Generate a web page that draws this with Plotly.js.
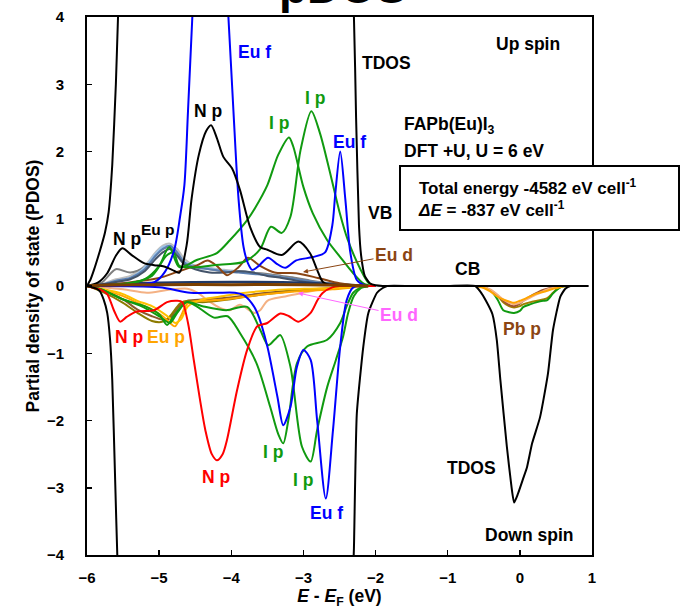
<!DOCTYPE html>
<html>
<head>
<meta charset="utf-8">
<script src="https://cdn.plot.ly/plotly-3.0.1.min.js"></script>
<style>html,body{margin:0;padding:0;background:#fff}#chart{width:680px;height:609px}</style>
</head>
<body>
<div id="chart"></div>
<script>
// ---------- data (energy E - EF in eV, PDOS values) ----------
const tdosUpX = [-6,-5.95,-5.9,-5.85,-5.8,-5.75,-5.7,-5.65,-5.6,-5.57,-5.5,-5.3,-4,-2.6,-2.4,-2.3,-2.27,-2.23,-2.2,-2.15,-2.08,-2.0,-1.9,-1.0,0,0.95];
const tdosUpY = [0,0.1,0.25,0.42,0.6,0.8,1.1,1.8,3.0,4.0,6,8,8,8,6,4.0,2.5,0.9,0.45,0.15,0.04,0.01,0,0,0,0];

const tdosDnX = [-6,-5.93,-5.87,-5.82,-5.77,-5.72,-5.68,-5.65,-5.61,-5.58,-5.5,-5.3,-4,-2.6,-2.4,-2.32,-2.3,-2.26,-2.17,-2.1,-1.98,-1.9,-1.84,-1.5,-1.0,-0.62,-0.55,-0.47,-0.38,-0.32,-0.27,-0.18,-0.12,-0.08,-0.03,0.05,0.1,0.17,0.28,0.39,0.46,0.56,0.63,0.7,0.8,0.95];
const tdosDnY = [0,-0.02,-0.04,-0.08,-0.2,-0.4,-0.8,-1.4,-2.88,-4.0,-6,-8,-8,-8,-6,-4.5,-3.9,-1.9,-0.9,-0.4,-0.1,-0.03,0,0,0,0,-0.08,-0.22,-0.42,-0.8,-1.4,-2.39,-2.95,-3.22,-3.1,-2.85,-2.69,-2.34,-1.95,-1.3,-0.65,-0.16,-0.04,0,0,0];

const npUpX = [-6,-5.85,-5.72,-5.6,-5.51,-5.38,-5.21,-5.07,-4.93,-4.82,-4.72,-4.62,-4.55,-4.45,-4.35,-4.28,-4.2,-4.11,-3.99,-3.88,-3.74,-3.6,-3.5,-3.3,-3.07,-2.91,-2.81,-2.73,-2.6,-2.3];
const npUpY = [0,0.05,0.19,0.45,0.56,0.46,0.34,0.31,0.29,0.24,0.2,0.6,1.3,1.95,2.3,2.39,2.2,1.92,1.75,1.43,0.88,0.58,0.54,0.46,0.66,0.49,0.24,0.06,0.01,0];

const eufUpX = [-6,-5.5,-5.2,-5.06,-4.92,-4.79,-4.71,-4.65,-4.6,-4.54,-4.45,-4.3,-4.15,-4.04,-3.97,-3.9,-3.83,-3.77,-3.71,-3.62,-3.49,-3.37,-3.25,-3.1,-2.87,-2.7,-2.6,-2.56,-2.49,-2.42,-2.35,-2.26,-2.15,-2.0];
const eufUpY = [0,0.01,0.03,0.06,0.21,0.54,1.03,1.5,2.6,4.0,6,7,6,4.0,2.6,1.3,0.58,0.34,0.24,0.3,0.42,0.33,0.27,0.38,0.43,0.5,0.9,1.35,2.0,1.3,0.5,0.09,0.01,0];

const ipUp1X = [-6,-5.5,-5.2,-5.0,-4.86,-4.72,-4.47,-4.2,-4.02,-3.78,-3.67,-3.5,-3.35,-3.2,-3.14,-3.0,-2.87,-2.67,-2.49,-2.31,-2.17,-2.05];
const ipUp1Y = [0,0.03,0.1,0.3,0.58,0.28,0.39,0.49,0.68,0.98,1.16,1.5,1.95,2.21,2.07,1.47,1.08,0.68,0.43,0.19,0.04,0];

const ipUp2X = [-6,-5.5,-5.1,-4.9,-4.8,-4.72,-4.5,-4.24,-3.82,-3.6,-3.45,-3.3,-3.18,-3.04,-2.89,-2.77,-2.63,-2.5,-2.39,-2.21,-2.1,-2.0];
const ipUp2Y = [0,0.02,0.15,0.45,0.5,0.3,0.28,0.31,0.36,0.55,0.88,0.79,1.03,2.02,2.6,2.27,1.68,1.1,0.7,0.25,0.05,0];

const eudUpX = [-6,-5.6,-5.3,-5.0,-4.75,-4.47,-4.33,-4.2,-4.06,-3.9,-3.77,-3.6,-3.4,-3.1,-2.8,-2.5,-2.2];
const eudUpY = [0,0.03,0.07,0.12,0.21,0.31,0.38,0.3,0.16,0.28,0.42,0.3,0.2,0.19,0.12,0.04,0];

const eupUpX = [-6,-5.8,-5.6,-5.4,-5.2,-5.05,-4.95,-4.85,-4.75,-4.65,-4.5,-4.3,-4.1,-3.9,-3.7,-3.5,-3.3,-3.1,-2.9,-2.7,-2.5,-2.3,-2.1];
const eupUpGray = [0,0.05,0.25,0.2,0.28,0.45,0.55,0.58,0.48,0.35,0.3,0.25,0.22,0.22,0.2,0.18,0.15,0.12,0.08,0.05,0.03,0.01,0];
const eupUpLightGray = [0,0.03,0.1,0.15,0.3,0.5,0.6,0.63,0.55,0.4,0.3,0.27,0.24,0.22,0.2,0.17,0.14,0.1,0.07,0.05,0.03,0.01,0];
const eupUpSteel = [0,0.02,0.08,0.12,0.25,0.45,0.55,0.6,0.5,0.35,0.28,0.25,0.22,0.2,0.18,0.16,0.13,0.1,0.07,0.04,0.02,0.01,0];
const eupUpSlate = [0,0.02,0.06,0.1,0.22,0.4,0.5,0.55,0.45,0.32,0.25,0.2,0.2,0.22,0.2,0.15,0.12,0.08,0.05,0.03,0.02,0.01,0];
const eupUpLightBlue = [0,0.02,0.07,0.12,0.28,0.48,0.58,0.6,0.5,0.36,0.3,0.26,0.23,0.21,0.19,0.16,0.13,0.09,0.06,0.04,0.02,0.01,0];

const baseX = [-6,-5.8,-5,-4,-3,-2.4,-2.1];
const baseBrownY = [0,0.01,0.02,0.02,0.02,0.01,0];
const baseNavyY = [0,0.02,0.05,0.06,0.05,0.02,0];

const npDnX = [-6,-5.9,-5.8,-5.72,-5.62,-5.54,-5.45,-5.31,-5.07,-4.89,-4.75,-4.68,-4.6,-4.52,-4.44,-4.36,-4.27,-4.2,-4.12,-4.06,-3.92,-3.78,-3.64,-3.5,-3.32,-3.2,-3.07,-2.9,-2.8,-2.73,-2.6,-2.5,-2.0];
const npDnY = [0,-0.03,-0.06,-0.12,-0.38,-0.53,-0.46,-0.38,-0.36,-0.24,-0.22,-0.24,-0.55,-1.1,-1.65,-2.14,-2.5,-2.59,-2.5,-2.29,-1.55,-0.95,-0.6,-0.55,-0.41,-0.45,-0.53,-0.4,-0.2,-0.1,-0.02,0,0];

const eufDnX = [-6,-5,-4.57,-4.2,-3.95,-3.84,-3.72,-3.64,-3.5,-3.36,-3.28,-3.18,-3.09,-3.0,-2.9,-2.81,-2.69,-2.59,-2.49,-2.4,-2.31,-2.2];
const eufDnY = [0,-0.02,-0.1,-0.1,-0.1,-0.13,-0.25,-0.4,-0.9,-1.65,-2.07,-1.8,-1.2,-0.95,-1.1,-2.0,-3.16,-2.14,-0.9,-0.21,-0.02,0];

const ipDnAX = [-6,-5.8,-5.5,-5.2,-5.0,-4.89,-4.8,-4.62,-4.47,-4.24,-4.05,-3.88,-3.65,-3.46,-3.35,-3.28,-3.21,-3.09,-2.95,-2.67,-2.49,-2.4,-2.31,-2.2,-2.1];
const ipDnAY = [0,-0.05,-0.2,-0.3,-0.42,-0.58,-0.45,-0.24,-0.31,-0.47,-0.45,-0.7,-1.15,-1.8,-2.2,-2.34,-2.0,-1.15,-0.9,-0.8,-0.55,-0.3,-0.1,-0.02,0];

const ipDnBX = [-6,-5.8,-5.5,-5.25,-5.0,-4.85,-4.75,-4.62,-4.4,-4.07,-3.78,-3.6,-3.49,-3.4,-3.32,-3.18,-3.02,-2.9,-2.81,-2.67,-2.55,-2.45,-2.38,-2.3,-2.2,-2.1];
const ipDnBY = [0,-0.05,-0.2,-0.3,-0.45,-0.55,-0.4,-0.24,-0.3,-0.36,-0.31,-0.65,-0.88,-0.8,-0.73,-1.2,-2.39,-2.61,-2.14,-1.5,-1.1,-0.75,-0.4,-0.15,-0.03,0];

const eupDnX = [-6,-5.8,-5.5,-5.3,-5.1,-4.95,-4.85,-4.78,-4.7,-4.6,-4.4,-4.1,-3.8,-3.5,-3.2,-2.9,-2.6,-2.3,-2.1];
const eupDnOrange = [0,-0.05,-0.15,-0.25,-0.35,-0.45,-0.55,-0.6,-0.45,-0.25,-0.22,-0.2,-0.16,-0.12,-0.09,-0.07,-0.05,-0.02,0];
const eupDnYellow = [0,-0.04,-0.12,-0.22,-0.3,-0.4,-0.48,-0.55,-0.5,-0.3,-0.2,-0.15,-0.1,-0.07,-0.05,-0.04,-0.03,-0.01,0];
const eupDnOlive = [0,-0.08,-0.25,-0.4,-0.52,-0.53,-0.45,-0.35,-0.25,-0.22,-0.24,-0.21,-0.16,-0.12,-0.08,-0.06,-0.04,-0.01,0];
const eupDnBrown = [0,-0.06,-0.2,-0.35,-0.45,-0.5,-0.48,-0.38,-0.28,-0.22,-0.2,-0.18,-0.14,-0.1,-0.07,-0.05,-0.03,-0.01,0];

const eudDnX = [-6,-5.5,-5.17,-4.89,-4.61,-4.47,-4.33,-4.15,-4.02,-3.88,-3.68,-3.6,-3.5,-3.28,-3.05,-2.81,-2.58,-2.3,-2.1];
const eudDnY = [0,-0.05,-0.1,-0.06,-0.04,-0.1,-0.21,-0.33,-0.36,-0.28,-0.4,-0.36,-0.22,-0.16,-0.11,-0.06,-0.03,-0.01,0];

const pbpX = [-0.6,-0.5,-0.41,-0.31,-0.23,-0.15,-0.08,0.0,0.05,0.15,0.24,0.32,0.38,0.46,0.52,0.58,0.65];
const pbpGreen = [0,-0.02,-0.06,-0.2,-0.36,-0.39,-0.4,-0.37,-0.31,-0.27,-0.24,-0.22,-0.21,-0.11,-0.05,-0.01,0];
const pbpOrange = [0,-0.03,-0.08,-0.16,-0.2,-0.23,-0.25,-0.22,-0.2,-0.15,-0.11,-0.09,-0.07,-0.04,-0.03,-0.01,0];
const pbpBrown = [0,-0.02,-0.07,-0.15,-0.22,-0.28,-0.3,-0.26,-0.22,-0.15,-0.1,-0.06,-0.04,-0.02,-0.01,0,0];
const pbpOlive = [0,-0.02,-0.06,-0.14,-0.24,-0.3,-0.32,-0.3,-0.27,-0.24,-0.22,-0.2,-0.18,-0.1,-0.04,-0.01,0];
const pbpPeach = [0,-0.02,-0.05,-0.13,-0.2,-0.25,-0.27,-0.25,-0.22,-0.17,-0.12,-0.08,-0.05,-0.03,-0.01,0,0];

// ---------- traces ----------
function line(x, y, color, width, name, smooth) {
  return {x: x, y: y, type: 'scatter', mode: 'lines', name: name,
          line: {color: color, width: width, shape: 'spline', smoothing: smooth === undefined ? 0.8 : smooth},
          hoverinfo: 'skip', showlegend: false};
}
const traces = [
  line(eupUpX, eupUpLightGray, '#BFBFBF', 2, 'Eu p up 1'),
  line(eupUpX, eupUpGray, '#7F7F7F', 2, 'Eu p up 2'),
  line(eupUpX, eupUpLightBlue, '#9DC3E6', 2, 'Eu p up 3'),
  line(eupUpX, eupUpSteel, '#5B7FB0', 2, 'Eu p up 4'),
  line(eupUpX, eupUpSlate, '#44546A', 2, 'Eu p up 5'),
  line(baseX, baseNavyY, '#203864', 2.5, 'base navy'),
  line(eudUpX, eudUpY, '#8B4513', 2, 'Eu d up'),
  line(ipUp1X, ipUp1Y, '#109A10', 2, 'I p up 1'),
  line(ipUp2X, ipUp2Y, '#109A10', 2, 'I p up 2'),
  line(eufUpX, eufUpY, '#0000FF', 2, 'Eu f up'),
  line(npUpX, npUpY, '#000000', 2, 'N p up'),
  line(eudDnX, eudDnY, '#F4B183', 2, 'Eu d down'),
  line(eupDnX, eupDnBrown, '#8B5A2B', 2, 'Eu p down 1'),
  line(eupDnX, eupDnOlive, '#8C7A00', 2, 'Eu p down 2'),
  line(eupDnX, eupDnOrange, '#FFA500', 2, 'Eu p down 3'),
  line(eupDnX, eupDnYellow, '#FFC000', 2, 'Eu p down 4'),
  line(ipDnAX, ipDnAY, '#109A10', 2, 'I p down 1'),
  line(ipDnBX, ipDnBY, '#109A10', 2, 'I p down 2'),
  line(eufDnX, eufDnY, '#0000FF', 2, 'Eu f down'),
  line(npDnX, npDnY, '#FF0000', 2, 'N p down'),
  line(baseX, baseBrownY, '#7B3F00', 3, 'base brown'),
  line(pbpX, pbpOlive, '#A08000', 2, 'Pb p 1'),
  line(pbpX, pbpGreen, '#109A10', 2, 'Pb p 2'),
  line(pbpX, pbpBrown, '#A0522D', 2, 'Pb p 3'),
  line(pbpX, pbpPeach, '#F4B183', 2, 'Pb p 4'),
  line(pbpX, pbpOrange, '#FFA500', 2, 'Pb p 5'),
  line(tdosUpX, tdosUpY, '#000000', 2, 'TDOS up', 0.5),
  line(tdosDnX, tdosDnY, '#000000', 2, 'TDOS down', 0.5)
];

// ---------- layout ----------
const FONT = 'Liberation Sans, Arial, sans-serif';
const LS = 17.5;
function lab(text, x, y, color, size) {
  return {text: '<b>' + text + '</b>', x: x, y: y, xref: 'x', yref: 'y', showarrow: false,
          font: {family: FONT, size: size || LS, color: color}};
}
const annotations = [
  {text: '<b>pDOS</b>', xref: 'paper', yref: 'paper', x: 0.507, y: 1.056, yanchor: 'middle',
   showarrow: false, font: {family: FONT, size: 46, color: '#000'}},
  lab('Eu f', -3.685, 3.48, '#0000FF'),
  lab('TDOS', -1.855, 3.316, '#000'),
  lab('Up spin', 0.113, 3.60, '#000'),
  lab('N p', -4.323, 2.602, '#000'),
  lab('I p', -3.339, 2.424, '#109A10'),
  lab('I p', -2.840, 2.796, '#109A10'),
  lab('Eu f', -2.368, 2.141, '#0000FF'),
  Object.assign(lab('FAPb(Eu)I<sub>3</sub>', -1.634, 2.364, '#000'), {xanchor: 'left', yanchor: 'bottom', y: 2.19}),
  Object.assign(lab('DFT +U, U = 6 eV', -1.634, 2.082, '#000'), {xanchor: 'left', yanchor: 'top', y: 2.19}),
  lab('VB', -1.939, 1.085, '#000'),
  {text: '<b>Eu d</b>', x: -3.006, y: 0.208, xref: 'x', yref: 'y', showarrow: true,
   ax: 91, ay: -17, arrowcolor: '#8B4513', arrowwidth: 1, arrowhead: 2, arrowsize: 1,
   font: {family: FONT, size: LS, color: '#8B4513'}},
  lab('CB', -0.719, 0.253, '#000'),
  lab('N p', -5.446, 0.699, '#000'),
  lab('Eu p', -5.016, 0.833, '#000', 15.5),
  lab('N p', -5.418, -0.758, '#FF0000'),
  lab('Eu p', -4.905, -0.758, '#FFA500'),
  lab('N p', -4.212, -2.840, '#FF0000'),
  lab('I p', -3.422, -2.468, '#109A10'),
  lab('I p', -3.006, -2.885, '#109A10'),
  lab('Eu f', -2.687, -3.375, '#0000FF'),
  {text: '<b>Eu d</b>', x: -3.075, y: -0.104, xref: 'x', yref: 'y', showarrow: true,
   ax: 101, ay: 22, arrowcolor: '#FF66FF', arrowwidth: 1, arrowhead: 2, arrowsize: 1,
   font: {family: FONT, size: LS, color: '#FF66FF'}},
  lab('Pb p', 0.030, -0.639, '#8B4513'),
  lab('TDOS', -0.677, -2.706, '#000'),
  lab('Down spin', 0.127, -3.703, '#000'),
  {text: '<b>Total energy -4582 eV cell<sup>-1</sup><br><i>ΔE</i> = -837 eV cell<sup>-1</sup></b>',
   xref: 'paper', yref: 'paper', x: 0.651, y: 0.6636, xanchor: 'left', yanchor: 'middle', align: 'left',
   showarrow: false, font: {family: FONT, size: 17, color: '#000'}}
];

const layout = {
  width: 680, height: 609,
  margin: {l: 87, r: 88, t: 17, b: 54, pad: 0},
  paper_bgcolor: '#fff', plot_bgcolor: '#fff',
  font: {family: FONT, size: 15, color: '#000', weight: 'bold'},
  showlegend: false,
  xaxis: {
    range: [-6, 1], dtick: 1, tick0: -6, ticks: 'inside', ticklen: 5, tickwidth: 1.5, tickcolor: '#000',
    showline: true, linecolor: '#000', linewidth: 2, mirror: true, showgrid: false, zeroline: false,
    tickfont: {family: FONT, size: 15, color: '#000', weight: 'bold'}, ticklabelstandoff: 8,
    title: {text: '<b><i>E</i> - <i>E</i><sub>F</sub> (eV)</b>', font: {family: FONT, size: 17.5, color: '#000'}, standoff: 6}
  },
  yaxis: {
    range: [-4, 4], dtick: 1, ticks: 'inside', ticklen: 5, tickwidth: 1.5, tickcolor: '#000',
    showline: true, linecolor: '#000', linewidth: 2, mirror: true, showgrid: false, zeroline: false,
    tickfont: {family: FONT, size: 15, color: '#000', weight: 'bold'}, ticklabelstandoff: 18,
    title: {text: '<b>Partial density of state (PDOS)</b>', font: {family: FONT, size: 17.5, color: '#000'}, standoff: 3}
  },
  shapes: [
    {type: 'rect', xref: 'paper', yref: 'paper', x0: 0.6198, x1: 1.1723, y0: 0.6041, y1: 0.7230,
     line: {color: '#000', width: 2}, fillcolor: '#fff', layer: 'above'}
  ],
  annotations: annotations
};

Plotly.newPlot('chart', traces, layout, {displayModeBar: false, staticPlot: true});
</script>
</body>
</html>
